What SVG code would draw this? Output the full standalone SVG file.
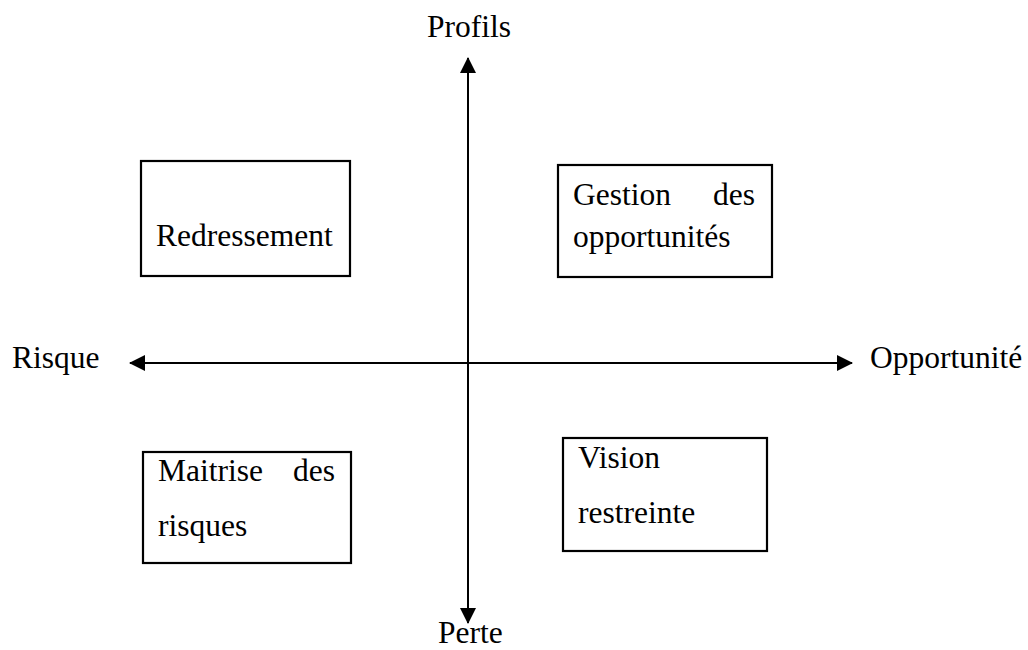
<svg xmlns="http://www.w3.org/2000/svg" width="1028" height="650" viewBox="0 0 1028 650">
<style>
text{font-family:"Liberation Serif","Times New Roman",serif;font-size:31.5px;fill:#000}
.box{fill:#fff;stroke:#000;stroke-width:2.2}
.axis{stroke:#000;stroke-width:2;fill:none}
</style>
<defs>
<marker id="ah" viewBox="0 0 16 16" refX="15" refY="8" markerWidth="16" markerHeight="16" markerUnits="userSpaceOnUse" orient="auto-start-reverse">
<path d="M0,0 L16,8 L0,16 Z" fill="#000"/>
</marker>
</defs>
<rect width="1028" height="650" fill="#fff"/>
<g id="connectors">
<line class="axis" x1="468" y1="612" x2="468" y2="58" marker-end="url(#ah)"/>
<line class="axis" x1="468" y1="70" x2="468" y2="623" marker-end="url(#ah)"/>
<line class="axis" x1="130" y1="363" x2="852" y2="363" marker-end="url(#ah)" marker-start="url(#ah)"/>
</g>
<g id="label-profils"><text x="427" y="37">Profils</text></g>
<g id="label-perte"><text x="438" y="643">Perte</text></g>
<g id="label-risque"><text x="12" y="368">Risque</text></g>
<g id="label-opportunite"><text x="870" y="368">Opportunité</text></g>
<g id="node-redressement">
<rect class="box" x="141" y="161" width="209" height="115"/>
<text x="156" y="246">Redressement</text>
</g>
<g id="node-gestion">
<rect class="box" x="558" y="165" width="214" height="112"/>
<text x="573" y="205">Gestion<tspan x="755" text-anchor="end">des</tspan></text>
<text x="573" y="247">opportunités</text>
</g>
<g id="node-maitrise">
<rect class="box" x="143" y="452" width="208" height="111"/>
<text x="158" y="481">Maitrise<tspan x="335" text-anchor="end">des</tspan></text>
<text x="158" y="536">risques</text>
</g>
<g id="node-vision">
<rect class="box" x="563" y="438" width="204" height="113"/>
<text x="578" y="468">Vision</text>
<text x="578" y="523">restreinte</text>
</g>
</svg>
